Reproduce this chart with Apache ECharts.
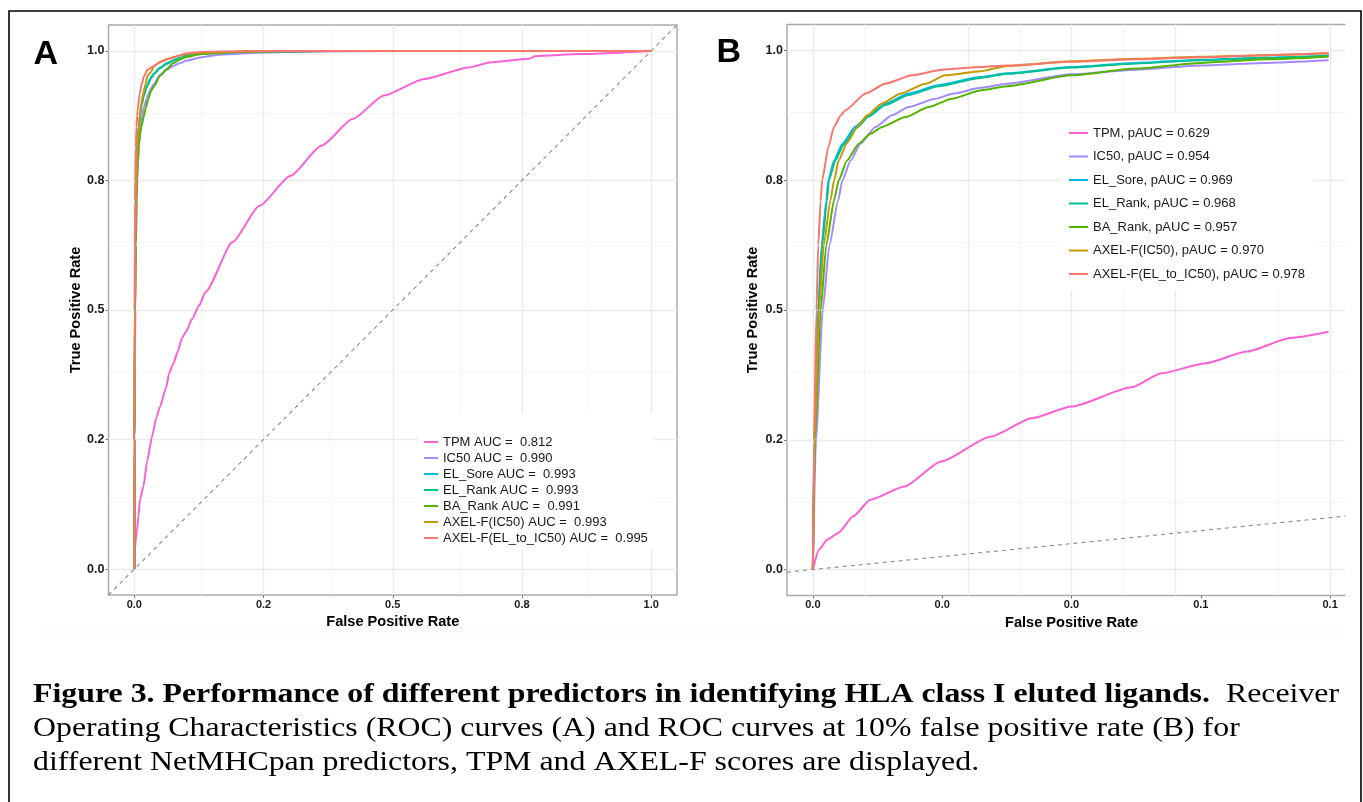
<!DOCTYPE html>
<html>
<head>
<meta charset="utf-8">
<script src="https://cdn.jsdelivr.net/npm/echarts@6/dist/echarts.min.js"></script>
<style>
html,body{margin:0;padding:0;background:#fff;}
#chart{width:1363px;height:802px;}
</style>
</head>
<body>
<div id="chart"></div>
<script>
// ---------- DATA ----------
const predictors = ['TPM', 'IC50', 'EL_Sore', 'EL_Rank', 'BA_Rank', 'AXEL-F(IC50)', 'AXEL-F(EL_to_IC50)'];
const aucA = ['0.812', '0.990', '0.993', '0.993', '0.991', '0.993', '0.995'];
const pAucB = ['0.629', '0.954', '0.969', '0.968', '0.957', '0.970', '0.978'];
const colors = ['#FB61D7', '#A58AFF', '#00B6EB', '#00C094', '#53B400', '#C49A00', '#F8766D'];

// ROC points [FPR, TPR] for FPR 0 .. 0.1 (panel B)
const rocTPM = [[0,0],[0.0012,0.0385],[0.0028,0.0577],[0.0049,0.0706],[0.0078,0.1025],[0.0111,0.1346],[0.0177,0.160],[0.0248,0.208],[0.0343,0.256],[0.0425,0.292],[0.050,0.314],[0.0616,0.351],[0.0674,0.378],[0.0757,0.397],[0.084,0.420],[0.0923,0.446],[0.0997,0.458]];
const rocIC50 = [[0,0],[0.0006,0.25],[0.0019,0.5],[0.0032,0.625],[0.0049,0.7115],[0.0057,0.75],[0.0073,0.788],[0.0092,0.8205],[0.0121,0.8526],[0.0153,0.875],[0.0185,0.891],[0.0237,0.907],[0.0272,0.917],[0.0324,0.928],[0.0375,0.936],[0.05,0.954],[0.0625,0.963],[0.075,0.971],[0.0875,0.976],[0.0997,0.981]];
const rocELSore = [[0,0],[0.0003,0.25],[0.001,0.5],[0.0017,0.625],[0.0026,0.71],[0.003,0.75],[0.0041,0.788],[0.0057,0.82],[0.0082,0.853],[0.0108,0.875],[0.014,0.897],[0.0185,0.917],[0.0243,0.933],[0.0324,0.949],[0.0375,0.956],[0.05,0.968],[0.0625,0.976],[0.075,0.982],[0.0875,0.986],[0.0997,0.990]];
const rocELRank = [[0,0],[0.0003,0.25],[0.0011,0.5],[0.0018,0.625],[0.0027,0.71],[0.0031,0.75],[0.0043,0.787],[0.0059,0.818],[0.0085,0.851],[0.0108,0.873],[0.014,0.895],[0.0185,0.914],[0.0243,0.931],[0.0324,0.947],[0.0375,0.955],[0.05,0.967],[0.0625,0.975],[0.075,0.981],[0.0875,0.986],[0.0997,0.990]];
const rocBARank = [[0,0],[0.0004,0.25],[0.0015,0.5],[0.0026,0.625],[0.0041,0.7115],[0.005,0.75],[0.0066,0.788],[0.0089,0.8205],[0.0111,0.8397],[0.0134,0.8526],[0.0179,0.8718],[0.0224,0.891],[0.0269,0.907],[0.0324,0.923],[0.0375,0.931],[0.05,0.952],[0.0625,0.965],[0.075,0.976],[0.0875,0.983],[0.0997,0.988]];
const rocAxelIC50 = [[0,0],[0.0003,0.25],[0.0012,0.5],[0.0021,0.625],[0.0034,0.7115],[0.0041,0.75],[0.005,0.788],[0.0065,0.8205],[0.0086,0.8526],[0.0105,0.875],[0.0133,0.8974],[0.0169,0.9167],[0.0218,0.936],[0.0256,0.952],[0.0324,0.960],[0.0375,0.970],[0.05,0.979],[0.0625,0.984],[0.075,0.988],[0.0875,0.991],[0.0997,0.994]];
const rocAxelEL = [[0,0],[0.0002,0.25],[0.0007,0.5],[0.00104,0.625],[0.0015,0.71],[0.0018,0.75],[0.003,0.814],[0.0041,0.853],[0.0054,0.875],[0.0063,0.885],[0.0102,0.917],[0.014,0.936],[0.0192,0.952],[0.025,0.963],[0.0324,0.968],[0.0375,0.971],[0.05,0.978],[0.0625,0.983],[0.075,0.987],[0.0875,0.991],[0.0997,0.995]];

// ROC points beyond FPR 0.1 (panel A only)
const tailTPM = [[0.112,0.483],[0.125,0.508],[0.138,0.535],[0.19,0.631],[0.242,0.701],[0.302,0.759],[0.362,0.817],[0.423,0.869],[0.483,0.914],[0.561,0.946],[0.647,0.968],[0.69,0.978],[0.764,0.985],[0.777,0.990],[0.863,0.994],[1,1]];
const tailIC50 = [[0.13,0.988],[0.17,0.993],[0.25,0.997],[0.35,0.999],[0.5,1],[1,1]];
const tailELSore = [[0.13,0.995],[0.2,0.998],[0.3,0.9995],[0.45,1],[1,1]];
const tailELRank = [[0.13,0.995],[0.2,0.998],[0.3,0.9995],[0.45,1],[1,1]];
const tailBARank = [[0.13,0.994],[0.2,0.998],[0.3,0.9995],[0.45,1],[1,1]];
const tailAxelIC50 = [[0.13,0.997],[0.2,0.999],[0.3,1],[1,1]];
const tailAxelEL = [[0.13,0.998],[0.2,0.9995],[0.3,1],[1,1]];

// axis ticks and labels
const ticksA = [0, 0.25, 0.5, 0.75, 1];
const minorA = [0.125, 0.375, 0.625, 0.875];
const tickLabelsA = ['0.0', '0.2', '0.5', '0.8', '1.0'];
const ticksBx = [0, 0.025, 0.05, 0.075, 0.1];
const minorBx = [0.0125, 0.0375, 0.0625, 0.0875];
const tickLabelsBx = ['0.0', '0.0', '0.0', '0.1', '0.1'];
const rangeA = [-0.05, 1.05];
const rangeBx = [-0.005, 0.105];
const chanceA = [[-0.05,-0.05],[1.05,1.05]];
const chanceB = [[-0.005,-0.005],[0.105,0.105]];

// ---------- BUILD ----------
const rocB = [rocTPM, rocIC50, rocELSore, rocELRank, rocBARank, rocAxelIC50, rocAxelEL];
const tails = [tailTPM, tailIC50, tailELSore, tailELRank, tailBARank, tailAxelIC50, tailAxelEL];
const namesA = predictors.map((p, i) => p + ' AUC =  ' + aucA[i]);
const namesB = predictors.map((p, i) => p + ', pAUC = ' + pAucB[i]);

const SANS = "'Liberation Sans', Arial, Helvetica, sans-serif";
const SERIF = "'Liberation Serif', 'Times New Roman', serif";
const fmt = (ticks, labels) => v => {
  const i = ticks.findIndex(t => Math.abs(t - v) < 1e-9);
  return i >= 0 ? labels[i] : '';
};
const MAJ = {color: '#ebebeb', width: 1.4, type: 'solid'};
const MIN = {color: '#f3f3f3', width: 0.8, type: 'solid'};

function gridSeries(xi, xMaj, xMin, yMaj, yMin) {
  const d = [];
  xMin.forEach(v => d.push({xAxis: v, lineStyle: MIN}));
  yMin.forEach(v => d.push({yAxis: v, lineStyle: MIN}));
  xMaj.forEach(v => d.push({xAxis: v, lineStyle: MAJ}));
  yMaj.forEach(v => d.push({yAxis: v, lineStyle: MAJ}));
  return {
    type: 'line', name: '__grid' + xi, xAxisIndex: xi, yAxisIndex: xi,
    data: [], silent: true, z: 0, animation: false,
    markLine: {silent: true, z: 0, symbol: ['none', 'none'], label: {show: false},
      animation: false, emphasis: {disabled: true}, data: d}
  };
}

function xAxisCfg(gi, range, ticks, labels) {
  return {
    gridIndex: gi, type: 'value', min: range[0], max: range[1],
    splitLine: {show: false}, axisLine: {show: false, onZero: false},
    axisTick: {show: true, customValues: ticks, length: 3, lineStyle: {color: '#777', width: 1}},
    axisLabel: {customValues: ticks, formatter: fmt(ticks, labels), fontFamily: SANS, fontSize: 11,
      fontWeight: 'bold', color: '#1a1a1a', margin: 4},
    name: 'False Positive Rate', nameLocation: 'middle', nameGap: 17.5,
    nameTextStyle: {fontFamily: SANS, fontSize: 14.6, fontWeight: 'bold', color: '#000'}
  };
}
function yAxisCfg(gi, gap) {
  return {
    gridIndex: gi, type: 'value', min: rangeA[0], max: rangeA[1],
    splitLine: {show: false}, axisLine: {show: false, onZero: false},
    axisTick: {show: true, customValues: ticksA, length: 3, lineStyle: {color: '#777', width: 1}},
    axisLabel: {customValues: ticksA, formatter: fmt(ticksA, tickLabelsA), fontFamily: SANS, fontSize: 12.5,
      fontWeight: 'bold', color: '#1a1a1a', margin: 4},
    name: 'True Positive Rate', nameLocation: 'middle', nameGap: gap,
    nameTextStyle: {fontFamily: SANS, fontSize: 14.6, fontWeight: 'bold', color: '#000'}
  };
}

const series = [gridSeries(0, ticksA, minorA, ticksA, minorA), gridSeries(1, ticksBx, minorBx, ticksA, minorA)];
const chanceStyle = {color: '#8a8a8a', width: 1.1, type: [4, 4]};
series.push({type: 'line', name: '__chanceA', xAxisIndex: 0, yAxisIndex: 0, data: chanceA,
  showSymbol: false, silent: true, z: 1, lineStyle: chanceStyle, animation: false, emphasis: {disabled: true}});
series.push({type: 'line', name: '__chanceB', xAxisIndex: 1, yAxisIndex: 1, data: chanceB,
  showSymbol: false, silent: true, z: 1, lineStyle: chanceStyle, animation: false, emphasis: {disabled: true}});

predictors.forEach((p, i) => {
  series.push({type: 'line', name: namesA[i], xAxisIndex: 0, yAxisIndex: 0,
    data: rocB[i].concat(tails[i]), showSymbol: false, symbol: 'none', color: colors[i],
    smooth: 0.2, smoothMonotone: 'x',
    lineStyle: {color: colors[i], width: 2}, z: 2, animation: false, emphasis: {disabled: true}, clip: true});
  series.push({type: 'line', name: namesB[i], xAxisIndex: 1, yAxisIndex: 1,
    data: rocB[i], showSymbol: false, symbol: 'none', color: colors[i],
    smooth: 0.2, smoothMonotone: 'x',
    lineStyle: {color: colors[i], width: 2}, z: 2, animation: false, emphasis: {disabled: true}, clip: true});
});

const legendText = {fontFamily: SANS, fontSize: 13, color: '#1a1a1a', lineHeight: 14};

const option = {
  backgroundColor: '#ffffff',
  animation: false,
  grid: [
    {left: 108.5, top: 25, width: 568.5, height: 570, show: true, borderColor: '#ababab', borderWidth: 1.5, backgroundColor: 'rgba(0,0,0,0)'},
    {left: 787, top: 24.5, width: 569, height: 571, show: true, borderColor: '#ababab', borderWidth: 1.5, backgroundColor: 'rgba(0,0,0,0)'}
  ],
  xAxis: [xAxisCfg(0, rangeA, ticksA, tickLabelsA), xAxisCfg(1, rangeBx, ticksBx, tickLabelsBx)],
  yAxis: [yAxisCfg(0, 25.5), yAxisCfg(1, 26.5)],
  legend: [
    {data: namesA, orient: 'vertical', left: 418, top: 413, padding: [22, 6, 5, 6], itemGap: 2,
      itemWidth: 14, itemHeight: 2, icon: 'rect', backgroundColor: '#fff', selectedMode: false,
      textStyle: legendText, z: 5},
    {data: namesB, orient: 'vertical', left: 1061, top: 113, padding: [13, 8, 9, 8], itemGap: 9.5,
      itemWidth: 19, itemHeight: 2, icon: 'rect', backgroundColor: '#fff', selectedMode: false,
      textStyle: legendText, z: 5}
  ],
  series: series,
  graphic: [
    {type: 'rect', z: 100, silent: true, shape: {x: 1345.5, y: 14, width: 14, height: 600}, style: {fill: '#fff'}},
    {type: 'line', z: 100, silent: true, shape: {x1: 40, y1: 632, x2: 1345, y2: 632}, style: {stroke: '#f3f3f3', lineWidth: 1}},
    {type: 'rect', z: 101, silent: true, shape: {x: 9, y: 11, width: 1352, height: 810}, style: {fill: 'none', stroke: '#000', lineWidth: 1.6}},
    {type: 'text', z: 101, silent: true, x: 33.5, y: 54.2, style: {text: 'A', font: "bold 34px " + SANS, fill: '#000', verticalAlign: 'middle'}},
    {type: 'text', z: 101, silent: true, x: 716.6, y: 53, style: {text: 'B', font: "bold 34px " + SANS, fill: '#000', verticalAlign: 'middle'}},
    {type: 'text', z: 101, silent: true, x: 33, y: 694.9, scaleX: 1.18, style: {
      text: '{b|Figure 3. Performance of different predictors in identifying HLA class I eluted ligands.}{r|  Receiver}',
      verticalAlign: 'middle',
      rich: {b: {font: "bold 27px " + SERIF, fill: '#000'}, r: {font: "27px " + SERIF, fill: '#000'}}}},
    {type: 'text', z: 101, silent: true, x: 33, y: 729.4, scaleX: 1.18, style: {
      text: 'Operating Characteristics (ROC) curves (A) and ROC curves at 10% false positive rate (B) for',
      font: "27px " + SERIF, fill: '#000', verticalAlign: 'middle'}},
    {type: 'text', z: 101, silent: true, x: 33, y: 763.4, scaleX: 1.18, style: {
      text: 'different NetMHCpan predictors, TPM and AXEL-F scores are displayed.',
      font: "27px " + SERIF, fill: '#000', verticalAlign: 'middle'}}
  ]
};

const chart = echarts.init(document.getElementById('chart'), null, {renderer: 'canvas'});
chart.setOption(option);
</script>
</body>
</html>
